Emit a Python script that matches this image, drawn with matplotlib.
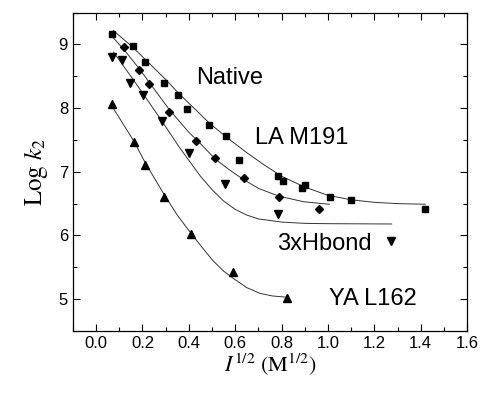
import matplotlib
matplotlib.use("Agg")
import matplotlib.pyplot as plt
from matplotlib.ticker import MultipleLocator, FormatStrFormatter

plt.rcParams.update({
    "font.family": "Liberation Sans",
    "font.size": 11,
    "mathtext.fontset": "stix",
})

# measured points (x = I^1/2, y = log k2)
native_x = [0.07, 0.16, 0.213, 0.291, 0.354, 0.393, 0.487, 0.56, 0.617, 0.783, 0.807, 0.89, 0.90, 1.009, 1.10, 1.42]
native_y = [9.16, 8.98, 8.73, 8.40, 8.20, 7.99, 7.74, 7.56, 7.18, 6.94, 6.85, 6.74, 6.79, 6.60, 6.55, 6.42]

lam_x = [0.12, 0.186, 0.229, 0.315, 0.43, 0.514, 0.636, 0.79, 0.963]
lam_y = [8.96, 8.60, 8.38, 7.94, 7.48, 7.21, 6.90, 6.60, 6.42]

hb_x = [0.067, 0.113, 0.146, 0.203, 0.283, 0.40, 0.554, 0.786, 1.272]
hb_y = [8.81, 8.76, 8.39, 8.20, 7.80, 7.30, 6.81, 6.33, 5.92]

ya_x = [0.068, 0.163, 0.212, 0.294, 0.41, 0.59, 0.822]
ya_y = [8.06, 7.46, 7.10, 6.60, 6.02, 5.43, 5.02]

# fitted curves
native_fx = [0.074, 0.16, 0.213, 0.30, 0.354, 0.487, 0.56, 0.65, 0.72, 0.80, 0.90, 1.00, 1.10, 1.20, 1.30, 1.42]
native_fy = [9.22, 8.95, 8.76, 8.45, 8.24, 7.77, 7.55, 7.30, 7.12, 6.93, 6.76, 6.63, 6.56, 6.52, 6.50, 6.49]

lam_fx = [0.075, 0.12, 0.19, 0.232, 0.315, 0.40, 0.448, 0.514, 0.575, 0.635, 0.70, 0.786, 0.894, 1.006]
lam_fy = [9.10, 8.92, 8.60, 8.39, 7.98, 7.62, 7.45, 7.20, 7.03, 6.88, 6.74, 6.62, 6.53, 6.49]

hb_fx = [0.075, 0.15, 0.20, 0.283, 0.362, 0.45, 0.50, 0.55, 0.60, 0.65, 0.70, 0.80, 0.90, 1.00, 1.275]
hb_fy = [8.88, 8.50, 8.24, 7.80, 7.37, 6.93, 6.72, 6.54, 6.41, 6.32, 6.26, 6.21, 6.19, 6.185, 6.18]

ya_fx = [0.065, 0.163, 0.212, 0.294, 0.35, 0.41, 0.46, 0.505, 0.55, 0.59, 0.65, 0.707, 0.76, 0.822]
ya_fy = [8.05, 7.48, 7.14, 6.64, 6.32, 6.03, 5.80, 5.60, 5.44, 5.33, 5.18, 5.09, 5.05, 5.03]

fig = plt.figure(figsize=(4.83, 3.94), dpi=100)
ax = fig.add_axes([0.151, 0.160, 0.816, 0.808])

line_kw = dict(color="#333333", linewidth=0.7)
for fx, fy in [(native_fx, native_fy), (lam_fx, lam_fy), (hb_fx, hb_fy), (ya_fx, ya_fy)]:
    ax.plot(fx, fy, **line_kw)

mk = dict(linestyle="none", color="black")
ax.plot(native_x, native_y, marker="s", markersize=4.5, **mk)
ax.plot(lam_x, lam_y, marker="D", markersize=4.0, **mk)
ax.plot(hb_x, hb_y, marker="v", markersize=5.5, **mk)
ax.plot(ya_x, ya_y, marker="^", markersize=5.5, **mk)

txt = dict(fontsize=17, va="center", ha="left")
ax.text(0.43, 8.48, "Native", **txt)
ax.text(0.686, 7.53, "LA M191", **txt)
ax.text(0.779, 5.86, "3xHbond", **txt)
ax.text(1.006, 5.0, "YA L162", **txt)

ax.set_xlim(-0.1, 1.6)
ax.set_ylim(4.5, 9.5)
ax.xaxis.set_major_locator(MultipleLocator(0.2))
ax.xaxis.set_minor_locator(MultipleLocator(0.1))
ax.yaxis.set_major_locator(MultipleLocator(1))
ax.yaxis.set_minor_locator(MultipleLocator(0.5))
ax.xaxis.set_major_formatter(FormatStrFormatter("%.1f"))
ax.tick_params(which="both", direction="in", top=True, right=True, width=0.8, labelsize=12)
ax.tick_params(which="major", length=5)
ax.tick_params(which="minor", length=3)
for s in ax.spines.values():
    s.set_linewidth(0.9)

ax.set_xlabel(r"$I^{\mathit{1/2}}\ (\mathrm{M}^{1/2})$", fontsize=16, labelpad=1)
ax.set_ylabel(r"$\mathrm{Log}\ k_2$", fontsize=18, labelpad=6)

fig.savefig("out.png", dpi=100)
